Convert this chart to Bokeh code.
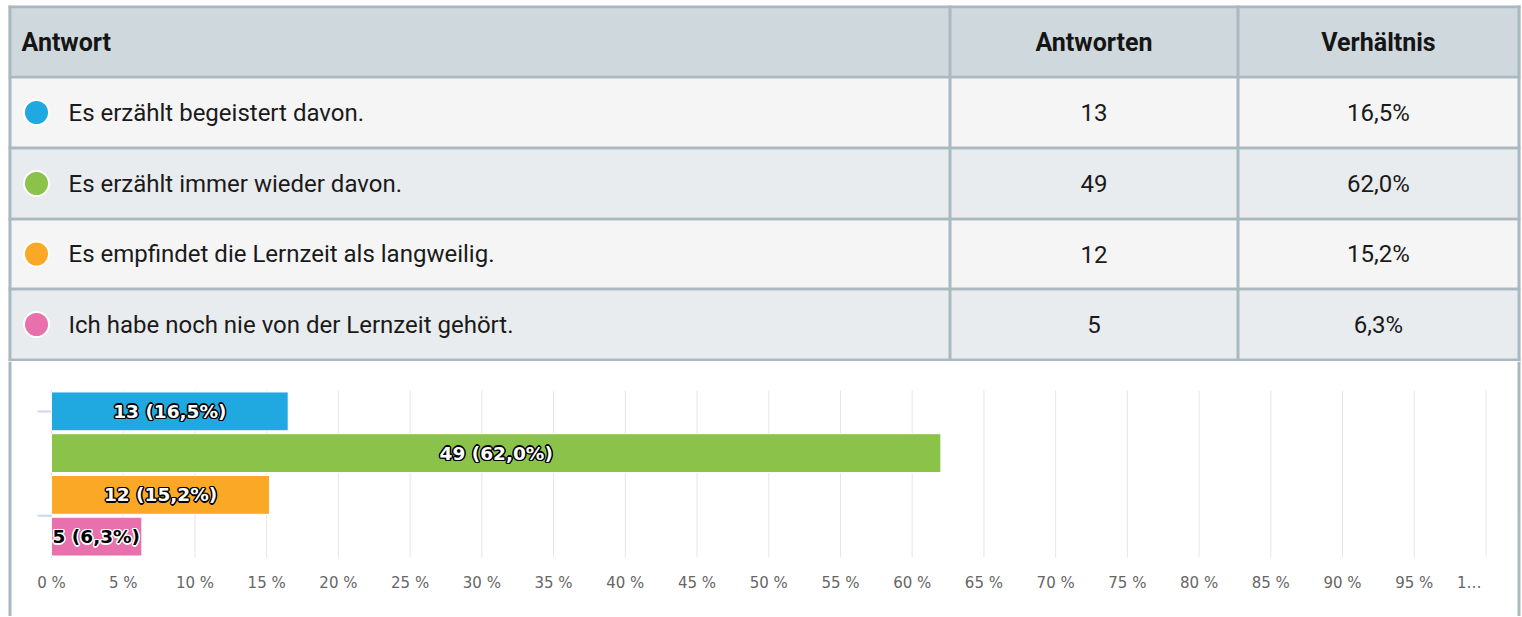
from bokeh.plotting import figure
from bokeh.layouts import column
from bokeh.models import Range1d, LinearAxis, FixedTicker
from bokeh.core.properties import value
from bokeh.embed import file_html
from bokeh.resources import INLINE

# ---------------- data ----------------
answers = [
    "Es erzählt begeistert davon.",
    "Es erzählt immer wieder davon.",
    "Es empfindet die Lernzeit als langweilig.",
    "Ich habe noch nie von der Lernzeit gehört.",
]
counts = [13, 49, 12, 5]
percents = [16.5, 62.0, 15.2, 6.3]
colors = ["#20a8e0", "#8bc34a", "#fba826", "#e870ad"]
headers = ["Antwort", "Antworten", "Verhältnis"]
x_ticks = list(range(0, 101, 5))


def de(v):
    return f"{v:.1f}".replace(".", ",")


pct_text = [de(p) + "%" for p in percents]
count_text = [str(c) for c in counts]
bar_labels = [f"{c} ({de(p)}%)" for c, p in zip(counts, percents)]

# ---------------- styling / layout ----------------
W = 1522
BORDER = "#aab8bf"
TABLE_FONT = value("Roboto")
N = len(answers)

# ================= table figure =================
HA = 361
pA = figure(width=W, height=HA, x_range=Range1d(0, W), y_range=Range1d(HA, 0),
            output_backend="svg", toolbar_location=None, min_border=0,
            x_axis_location=None, y_axis_location=None)
pA.grid.visible = False
pA.outline_line_color = None
pA.background_fill_color = "white"
pA.border_fill_color = "white"

L, R = 8, 1520          # outer box
BW = 3                  # border width
sep_x = [948, 1236]     # column separators (left edge)
line_y = [5, 75, 146, 217, 287, 358]   # horizontal border lines (top edge)
row_fills = ["#cfd8dc", "#f5f5f5", "#e9ecee", "#f5f5f5", "#e9ecee"]

row_tops = [y + BW for y in line_y[:-1]]
row_bots = line_y[1:]
pA.quad(left=L, right=R, top=row_tops, bottom=row_bots, fill_color=row_fills, line_color=None)
pA.quad(left=L, right=R, top=line_y, bottom=[y + BW for y in line_y], fill_color=BORDER, line_color=None)
v_left = [L] + sep_x + [R - BW]
pA.quad(left=v_left, right=[x + BW for x in v_left], top=line_y[0], bottom=HA,
        fill_color=BORDER, line_color=None)

row_centers = [(t + b) / 2 for t, b in zip(row_tops, row_bots)]
hc = row_centers[0]
rc = row_centers[1:]
c2 = (sep_x[0] + BW + sep_x[1]) / 2
c3 = (sep_x[1] + BW + R - BW) / 2

pA.text(x=[21], y=[hc], text=[headers[0]], text_font=TABLE_FONT, text_font_size="25px",
        text_font_style="bold", text_baseline="middle", text_align="left", text_color="#151515")
pA.text(x=[c2, c3], y=[hc, hc], text=headers[1:], text_font=TABLE_FONT, text_font_size="25px",
        text_font_style="bold", text_baseline="middle", text_align="center", text_color="#151515")

pA.scatter(x=[36] * N, y=rc, size=25, marker="circle", fill_color=colors,
           line_color="white", line_width=2)
pA.text(x=[68] * N, y=rc, text=answers, text_font=TABLE_FONT, text_font_size="24px",
        text_baseline="middle", text_align="left", text_color="#1a1a1a")
pA.text(x=[c2] * N, y=rc, text=count_text, text_font=TABLE_FONT, text_font_size="24px",
        text_baseline="middle", text_align="center", text_color="#1a1a1a")
pA.text(x=[c3] * N, y=rc, text=pct_text, text_font=TABLE_FONT, text_font_size="24px",
        text_baseline="middle", text_align="center", text_color="#1a1a1a")

# ================= bar chart figure =================
TOP_B = HA
HB = 255
plot_top = 390 - TOP_B
plot_bot = 557 - TOP_B
x0_px = 51
px_per_pct = 14.345
band = (plot_bot - plot_top) / N
x_start = -x0_px / px_per_pct
x_end = x_start + W / px_per_pct
y_top = -0.5 - plot_top / band
y_bot = N - 0.5 + (HB - plot_bot) / band

pB = figure(width=W, height=HB, x_range=Range1d(x_start, x_end), y_range=Range1d(y_bot, y_top),
            output_backend="svg", toolbar_location=None, min_border=0,
            x_axis_location=None, y_axis_location=None)
pB.grid.visible = False
pB.outline_line_color = None
pB.background_fill_color = "white"
pB.border_fill_color = "white"

# grid lines
pB.segment(x0=x_ticks, x1=x_ticks, y0=-0.5, y1=N - 0.5, line_color="#e6e6e6", line_width=1)
pB.segment(x0=[0], x1=[0], y0=-0.5, y1=N - 0.5, line_color="#ccd6eb", line_width=1)
# y-axis tick marks
tick_len = 14 / px_per_pct
pB.segment(x0=-tick_len, x1=0, y0=[0, 2.5], y1=[0, 2.5], line_color="#ccd6eb", line_width=2)

ys = list(range(N))
pB.hbar(y=ys, left=0, right=percents, height=0.93, fill_color=colors,
        line_color="white", line_width=1)

fits = [p * px_per_pct > 130 for p in percents]
in_y = [y for y, f in zip(ys, fits) if f]
in_x = [p / 2 for p, f in zip(percents, fits) if f]
in_t = [t for t, f in zip(bar_labels, fits) if f]
out_y = [y for y, f in zip(ys, fits) if not f]
out_t = [t for t, f in zip(bar_labels, fits) if not f]

LABEL_FONT = value("DejaVu Sans")
offsets = [(-1, -1), (0, -1), (1, -1), (-1, 0), (1, 0), (-1, 1), (0, 1), (1, 1),
           (-1.5, 0), (1.5, 0), (0, -1.5), (0, 1.5)]
for dx, dy in offsets:
    pB.text(x=in_x, y=in_y, text=in_t, text_font=LABEL_FONT, text_font_size="18.5px",
            text_font_style="bold", text_color="black", x_offset=dx, y_offset=dy,
            text_align="center", text_baseline="middle")
    pB.text(x=[0] * len(out_y), y=out_y, text=out_t, text_font=LABEL_FONT, text_font_size="18.5px",
            text_font_style="bold", text_color="white", x_offset=dx + 1, y_offset=dy,
            text_align="left", text_baseline="middle")
pB.text(x=in_x, y=in_y, text=in_t, text_font=LABEL_FONT, text_font_size="18.5px",
        text_font_style="bold", text_color="white",
        text_align="center", text_baseline="middle")
pB.text(x=[0] * len(out_y), y=out_y, text=out_t, text_font=LABEL_FONT, text_font_size="18.5px",
        text_font_style="bold", text_color="black", x_offset=1,
        text_align="left", text_baseline="middle")

# side borders of the outer box
pB.quad(left=[x_start + L / px_per_pct, x_start + (R - BW) / px_per_pct],
        right=[x_start + (L + BW) / px_per_pct, x_start + R / px_per_pct],
        top=y_top, bottom=y_bot, fill_color=BORDER, line_color=None)

overrides = {t: f"{t} %" for t in x_ticks}
# the last label is truncated in the original; padding keeps it left of the tick
overrides[100] = "1…" + "\u00a0" * 7
ax = LinearAxis(fixed_location=N - 0.5, ticker=FixedTicker(ticks=x_ticks),
                major_label_overrides=overrides, axis_line_color=None,
                major_tick_line_color=None, minor_tick_line_color=None,
                major_tick_out=0, major_tick_in=0,
                major_label_text_font="DejaVu Sans", major_label_text_font_size="15px",
                major_label_text_color="#666666", major_label_standoff=16)
pB.add_layout(ax, "below")

layout = column(pA, pB)
open("out.html", "w").write(file_html(layout, INLINE))
